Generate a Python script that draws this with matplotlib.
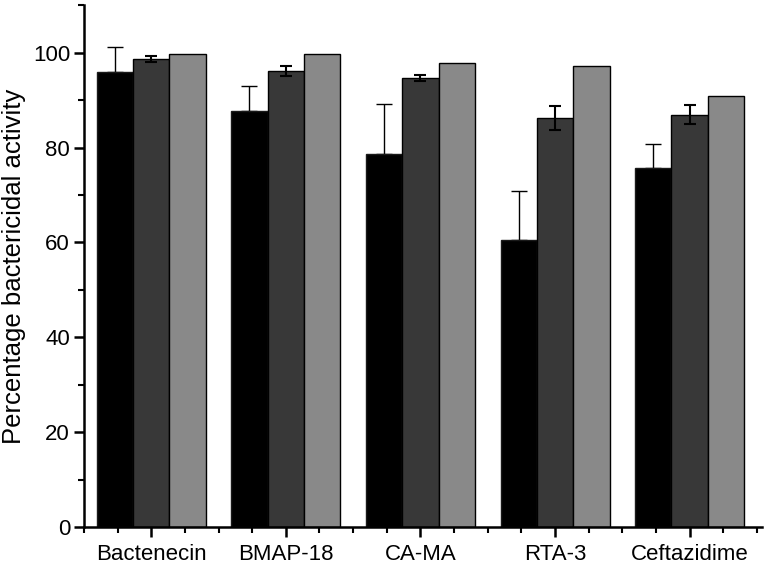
import numpy as np
import matplotlib
matplotlib.use('Agg')
import matplotlib.pyplot as plt
from matplotlib.ticker import MultipleLocator

plt.rcParams['font.family'] = ['Liberation Sans', 'DejaVu Sans']

# Data
groups = ['Bactenecin', 'BMAP-18', 'CA-MA', 'RTA-3', 'Ceftazidime']
series1 = [96.0, 87.8, 78.7, 60.5, 75.7]
series1_err = [5.3, 5.2, 10.4, 10.4, 5.0]
series2 = [98.7, 96.2, 94.7, 86.2, 86.9]
series2_err = [0.6, 1.1, 0.6, 2.5, 2.0]
series3 = [99.8, 99.7, 97.8, 97.2, 90.9]

colors = ['#000000', '#383838', '#898989']
width = 0.27

fig = plt.figure(figsize=(7.7, 5.67), dpi=100)
ax = fig.add_axes([0.109, 0.0705, 0.881, 0.92])

x = np.arange(1, len(groups) + 1)

ax.bar(x - width, series1, width, color=colors[0], edgecolor='#1a1a1a', linewidth=1, zorder=2)
ax.errorbar(x - width, series1, yerr=[np.zeros(len(series1)), series1_err], fmt='none',
            ecolor='black', elinewidth=1, capsize=6, capthick=1, zorder=1)

ax.bar(x, series2, width, color=colors[1], edgecolor='black', linewidth=1, zorder=2)
ax.errorbar(x, series2, yerr=series2_err, fmt='none', ecolor='black',
            elinewidth=1.5, capsize=4, capthick=1.5, zorder=3)

ax.bar(x + width, series3, width, color=colors[2], edgecolor='black', linewidth=1, zorder=2)

ax.set_xlim(0.5, 5.54)
ax.set_ylim(0, 110)
ax.set_xticks(x)
ax.set_xticklabels(groups)
ax.xaxis.set_minor_locator(MultipleLocator(0.25))
ax.yaxis.set_major_locator(MultipleLocator(20))
ax.yaxis.set_minor_locator(MultipleLocator(10))

for side in ['top', 'right']:
    ax.spines[side].set_visible(False)
for side in ['left', 'bottom']:
    ax.spines[side].set_linewidth(1.8)

ax.tick_params(axis='both', which='major', direction='out', length=7, width=1.8, labelsize=16)
ax.tick_params(axis='both', which='minor', direction='out', length=4, width=1.5)
ax.tick_params(axis='x', which='major', pad=5)
ax.tick_params(axis='y', which='major', pad=3)

ax.set_ylabel('Percentage bactericidal activity', fontsize=18.5, labelpad=5)

fig.savefig('out.png', dpi=100)
